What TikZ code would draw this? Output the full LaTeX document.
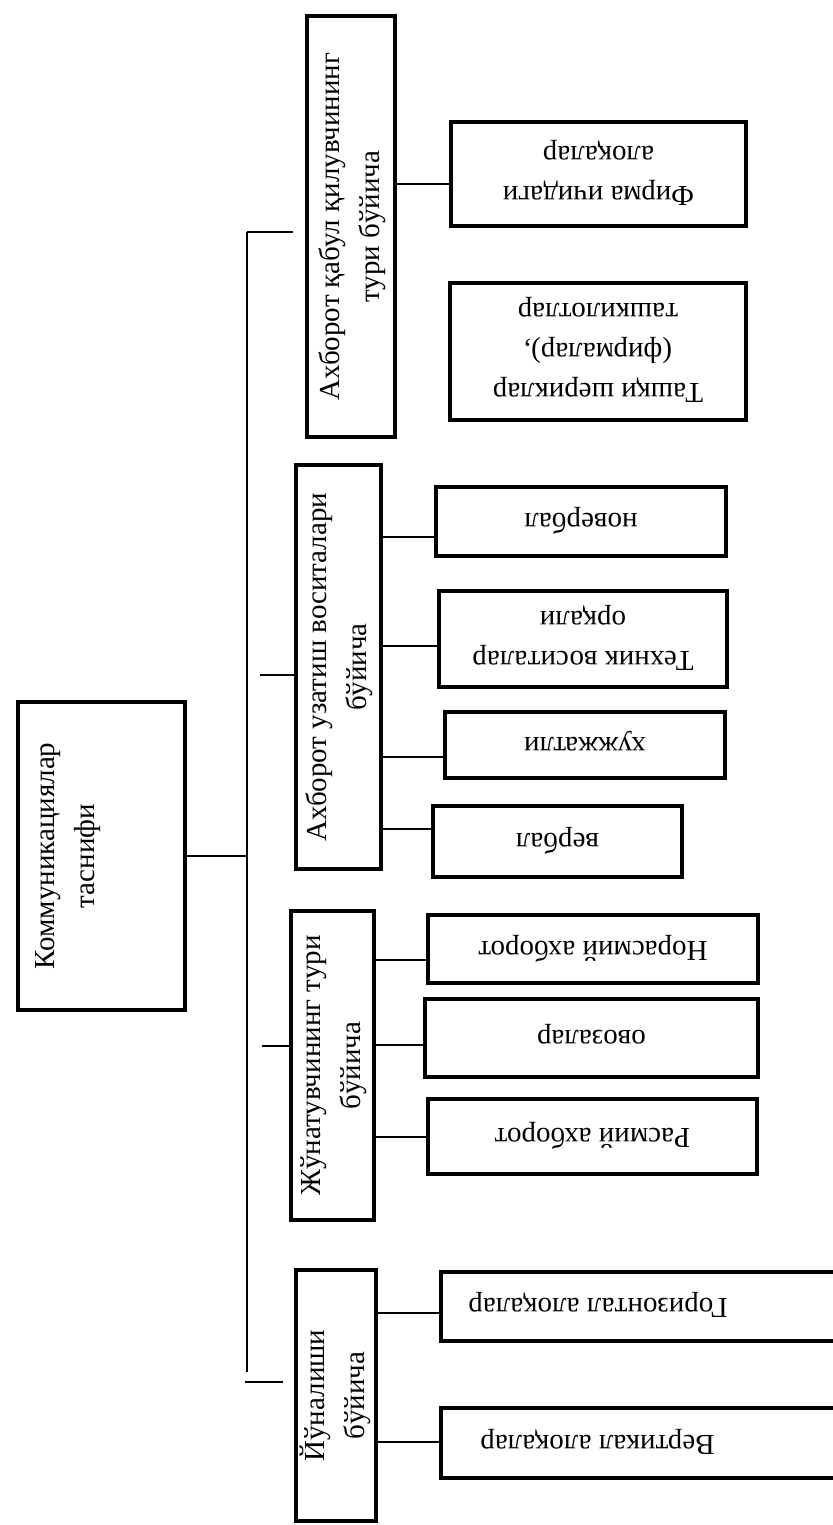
\documentclass[tikz,border=0pt]{standalone}
\usepackage{fontspec}
\setmainfont{Liberation Serif}
\usepackage{graphicx}
\newcommand{\rup}[1]{\rotatebox{90}{\begin{tabular}{@{}c@{}}#1\end{tabular}}}
\newcommand{\rdn}[1]{\rotatebox{180}{\begin{tabular}{@{}c@{}}#1\end{tabular}}}
\begin{document}
\begin{tikzpicture}[x=0.5pt,y=-0.5pt,
  box/.style={draw=black, line width=2pt, inner sep=0pt, font=\fontsize{14.5}{20}\selectfont},
  sz/.style 2 args={minimum width=#1*0.5pt, minimum height=#2*0.5pt},
  txt/.style={inner sep=0pt, font=\fontsize{14.5}{20}\selectfont},
  conn/.style={draw=black, line width=0.7pt}]
\useasboundingbox (0,0) rectangle (832,1525);

% root
\node[box,sz={167}{308}] (root) at (101.5,856) {};
\node[txt] (roottxt) at (66,856) {\rup{Коммуникациялар\\таснифи}};

% level 2
\node[box,sz={88}{421}] (b1) at (351,226.5) {\rup{Ахборот қабул қилувчининг\\тури бўйича}};
\node[box,sz={85}{404}] (b2) at (338.5,667) {\rup{Ахборот узатиш воситалари\\бўйича}};
\node[box,sz={83}{309}] (b3) at (332.5,1065.5) {\rup{Жўнатувчининг тури\\бўйича}};
\node[box,sz={80}{251}] (b4) at (336,1395.5) {\rup{Йўналиши\\бўйича}};

% level 3
\node[box,sz={295}{104}] (c11) at (598.5,174) {\rdn{Фирма ичидаги\\алоқалар}};
\node[box,sz={296}{137}] (c12) at (598,351.5) {\rdn{Ташқи шериклар\\(фирмалар),\\ташкилотлар}};
\node[box,sz={290}{69}] (c21) at (581,521.5) {\rdn{новербал}};
\node[box,sz={288}{96}] (c22) at (583,639) {\rdn{Техник воситалар\\орқали}};
\node[box,sz={280}{66}] (c23) at (585,745) {\rdn{хужжатли}};
\node[box,sz={249}{71}] (c24) at (557.5,841.5) {\rdn{вербал}};
\node[box,sz={330}{68}] (c31) at (593,949) {\rdn{Норасмий ахборот}};
\node[box,sz={333}{78}] (c32) at (591.5,1038) {\rdn{овозалар}};
\node[box,sz={329}{75}] (c33) at (592.5,1136.5) {\rdn{Расмий ахборот}};
\node[box,sz={458}{69}] (c41) at (670,1306.5) {};
\node[txt] (c41txt) at (598,1306.5) {\rdn{Горизонтал алоқалар}};
\node[box,sz={458}{70}] (c42) at (670,1443) {};
\node[txt] (c42txt) at (597.5,1443) {\rdn{Вертикал алоқалар}};

% trunk and stubs
\coordinate (ttop) at (247,232);
\coordinate (tbot) at (247,1372);
\coordinate (s2) at (260,675);
\coordinate (s3) at (262,1046);
\coordinate (s4) at (245,1382);
\draw[conn] (root.east) -- (root.east -| ttop);
\draw[conn] (ttop) -- (tbot);
\draw[conn,shorten >=6pt] (ttop) -- (ttop -| b1.west);
\draw[conn] (s2) -- (s2 -| b2.west);
\draw[conn] (s3) -- (s3 -| b3.west);
\draw[conn,shorten >=5.5pt] (s4) -- (s4 -| b4.west);

% level 2 -> level 3
\draw[conn] (b1.east |- 0,184) -- (c11.west |- 0,184);
\draw[conn] (b2.east |- 0,537) -- (c21.west |- 0,537);
\draw[conn] (b2.east |- 0,646) -- (c22.west |- 0,646);
\draw[conn] (b2.east |- 0,757) -- (c23.west |- 0,757);
\draw[conn] (b2.east |- 0,829) -- (c24.west |- 0,829);
\draw[conn] (b3.east |- 0,960) -- (c31.west |- 0,960);
\draw[conn] (b3.east |- 0,1045) -- (c32.west |- 0,1045);
\draw[conn] (b3.east |- 0,1137) -- (c33.west |- 0,1137);
\draw[conn] (b4.east |- 0,1313) -- (c41.west |- 0,1313);
\draw[conn] (b4.east |- 0,1442) -- (c42.west |- 0,1442);
\end{tikzpicture}
\end{document}
